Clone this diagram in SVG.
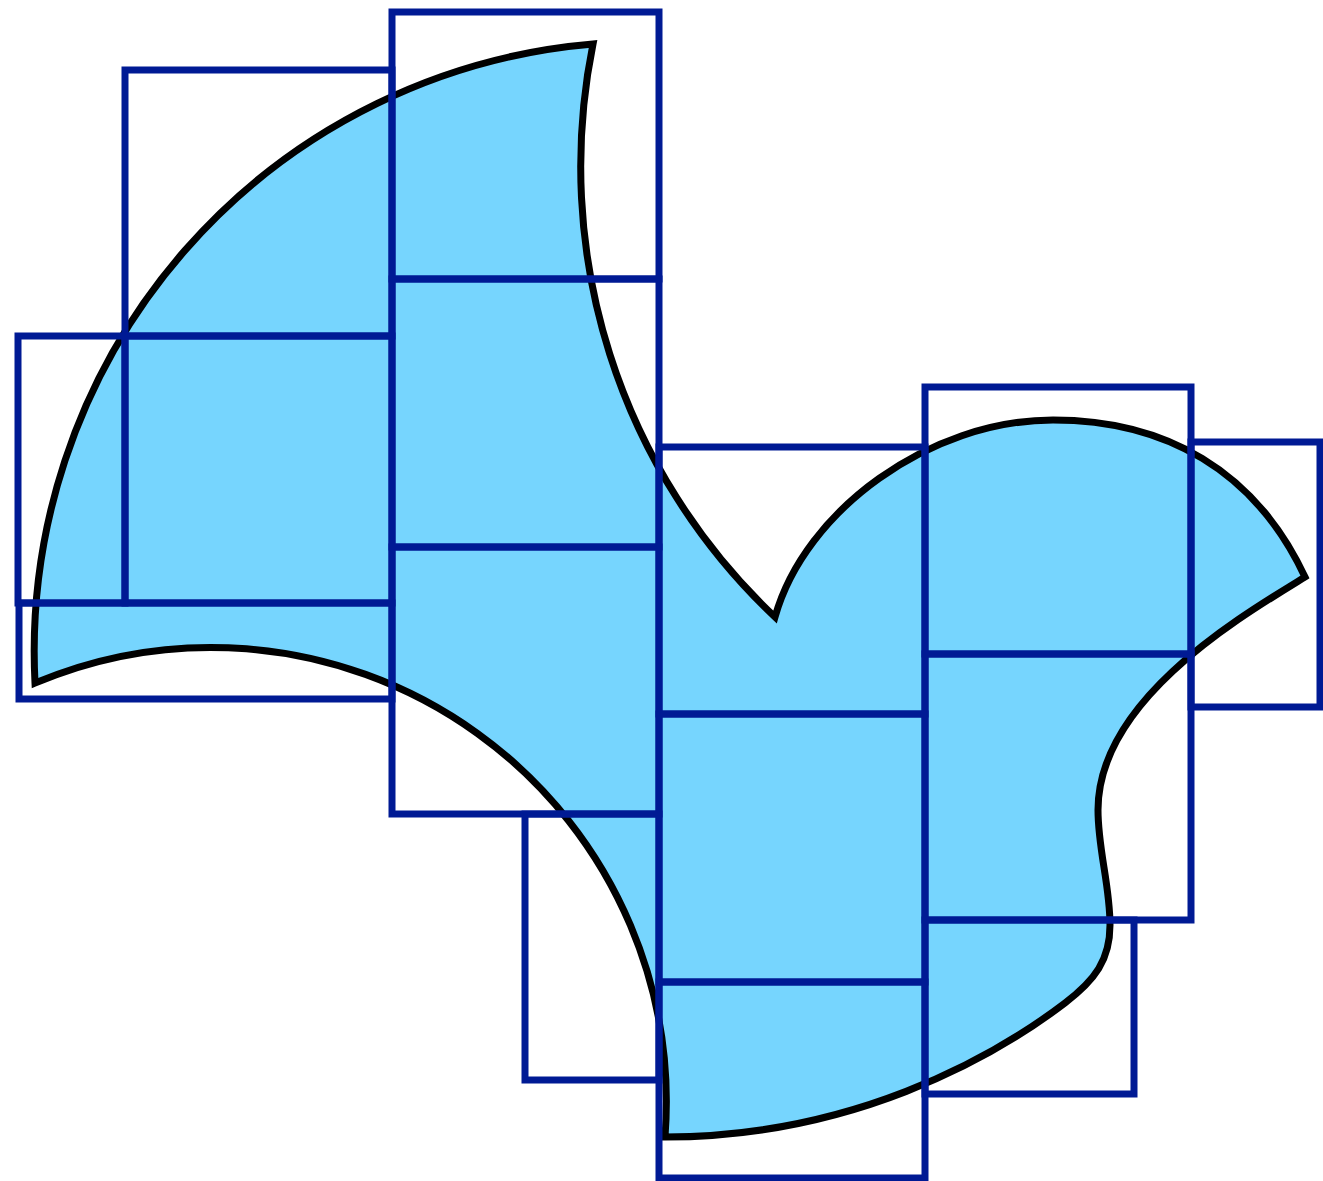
<svg xmlns="http://www.w3.org/2000/svg" width="1323" height="1181" viewBox="0 0 1323 1181">
<style>
.shape{fill:#76D5FE;stroke:#000;stroke-width:7;stroke-linejoin:miter;stroke-miterlimit:20}
.cell{fill:none;stroke:#001A94;stroke-width:7}
</style>
<rect width="1323" height="1181" fill="#fff"/>
<g id="shape">
<path class="shape" d="M35,683 A610,610 0 0 1 593,44 A619,619 0 0 0 775,617 C805,510 930,420 1053,420 C1165,420 1255,470 1305,577 C1240,617 1098,700 1098,810 C1098,850 1110,885 1110,925 C1110,960 1095,980 1065,1003 C990,1060 850,1137 665,1137 A455,455 0 0 0 35,683 Z"/>
</g>
<g id="cells">
<rect class="cell" x="125" y="70" width="267" height="266"/>
<rect class="cell" x="125" y="336" width="267" height="267"/>
<rect class="cell" x="18" y="336" width="107" height="267"/>
<rect class="cell" x="19" y="603" width="373" height="96"/>
<rect class="cell" x="392" y="12" width="267" height="267"/>
<rect class="cell" x="392" y="279" width="267" height="268"/>
<rect class="cell" x="392" y="547" width="267" height="267"/>
<rect class="cell" x="525" y="814" width="134" height="266"/>
<rect class="cell" x="659" y="447" width="266" height="267"/>
<rect class="cell" x="659" y="714" width="266" height="268"/>
<rect class="cell" x="659" y="982" width="266" height="196"/>
<rect class="cell" x="925" y="387" width="266" height="267"/>
<rect class="cell" x="925" y="654" width="266" height="266"/>
<rect class="cell" x="925" y="920" width="209" height="174"/>
<rect class="cell" x="1191" y="442" width="129" height="265"/>
</g>
</svg>
